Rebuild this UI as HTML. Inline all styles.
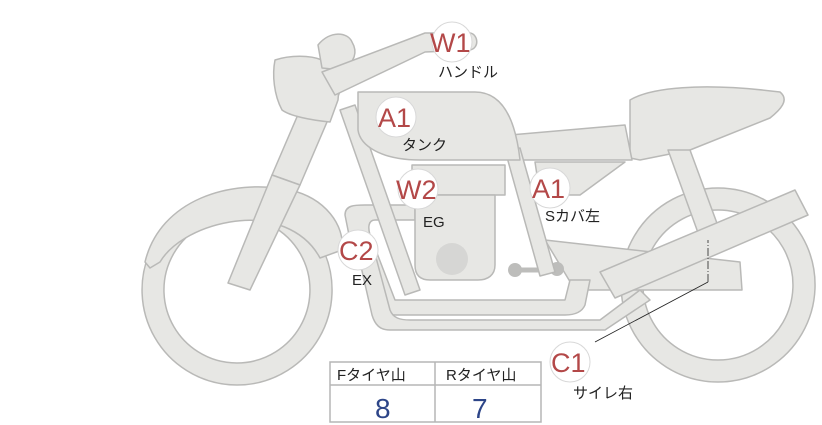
<!DOCTYPE html>
<html><head><meta charset="utf-8"><style>
html,body{margin:0;padding:0;background:#fff;}
svg{display:block}
.p{fill:#e7e7e4;stroke:#b9b9b7;stroke-width:1.5;stroke-linejoin:round}
.c{fill:#fff;stroke:#d8d8d8;stroke-width:1}
.l{font-family:"Liberation Sans","Noto Sans CJK JP",sans-serif;fill:#b34848;font-size:27px}
.t{font-family:"Liberation Sans","Noto Sans CJK JP",sans-serif;fill:#222;font-size:15px}
</style></head><body>
<svg width="822" height="425" viewBox="0 0 822 425" xmlns="http://www.w3.org/2000/svg">
<path class="p" fill-rule="evenodd" d="M718,188a97,97 0 1,0 0.1,0ZM718,210a75,75 0 1,1 -0.1,0Z"/>
<path class="p" fill-rule="evenodd" d="M237,195a95,95 0 1,0 0.1,0ZM237,217a73,73 0 1,1 -0.1,0Z"/>
<path class="p" d="M145,262 C160,200 230,178 290,190 C325,198 345,225 342,250 L320,258 C305,230 270,215 230,222 C195,228 170,245 160,262 L150,268 Z"/>
<path class="p" d="M630,100 C650,88 700,82 780,92 C790,100 780,110 770,118 L690,150 L640,160 L630,158 Z"/>
<path class="p" d="M510,135 L625,125 L632,160 L515,160 Z"/>
<path class="p" d="M535,162 L625,162 L580,195 L540,195 Z"/>
<path class="p" d="M668,150 L690,150 L725,245 L705,252 Z"/>
<path class="p" d="M545,240 L740,262 L742,290 L575,290 Z"/>
<path class="p" d="M345,215 C345,205 355,205 365,205 L415,205 L415,220 L375,220 C368,220 368,228 370,235 L395,300 L565,300 L570,280 L590,280 L585,305 C582,312 575,315 565,315 L395,315 C385,315 380,310 375,300 L350,240 Z"/>
<path class="p" d="M355,240 L370,235 L390,310 C393,318 400,320 410,320 L600,320 L640,290 L650,300 L605,330 L390,330 C380,330 375,325 372,315 Z"/>
<path class="p" d="M412,165 L505,165 L505,195 L412,195 Z"/>
<path class="p" d="M415,195 L495,195 L495,265 C495,275 488,280 478,280 L430,280 C420,280 415,275 415,265 Z"/>
<circle cx="452" cy="259" r="16" fill="#d6d6d4"/>
<path d="M515,270 L560,270" stroke="#bdbdbb" stroke-width="5"/>
<circle cx="515" cy="270" r="7" fill="#bdbdbb"/><circle cx="557" cy="269" r="7" fill="#bdbdbb"/>
<path class="p" d="M340,110 L355,105 L420,290 L405,295 Z"/>
<path class="p" d="M505,150 L520,148 L555,272 L540,276 Z"/>
<path class="p" d="M358,92 L475,92 C500,92 515,115 520,160 L420,160 C380,160 360,145 358,130 Z"/>
<path class="p" d="M600,272 L795,190 L808,215 L615,298 Z"/>
<path class="p" d="M315,75 L345,80 L300,185 L272,175 Z"/>
<path class="p" d="M272,175 L300,185 L250,290 L228,283 Z"/>
<path class="p" d="M275,60 C290,55 310,55 322,60 C335,70 340,85 338,100 L330,122 C310,120 290,116 282,110 C274,95 272,75 275,60 Z"/>
<path class="p" d="M318,45 C330,30 348,32 352,42 C358,52 355,62 342,70 L322,68 Z"/>
<path class="p" d="M322,72 L425,33 L470,33 C478,34 480,48 470,50 L425,52 L335,95 Z"/>
<path d="M595,342 L708,282" stroke="#222" stroke-width="0.8" fill="none"/>
<path d="M708,282 L708,240" stroke="#222" stroke-width="0.8" stroke-dasharray="8,2,1,2" fill="none"/>
<circle class="c" cx="452" cy="42" r="20"/><text class="l" x="430" y="52">W1</text>
<text class="t" x="438" y="77">ハンドル</text>
<circle class="c" cx="396" cy="117" r="20"/><text class="l" x="378" y="127">A1</text>
<text class="t" x="402" y="150">タンク</text>
<circle class="c" cx="418" cy="189" r="20"/><text class="l" x="396" y="199">W2</text>
<text class="t" x="423" y="227">EG</text>
<circle class="c" cx="358" cy="250" r="20"/><text class="l" x="339" y="260">C2</text>
<text class="t" x="352" y="285">EX</text>
<circle class="c" cx="550" cy="188" r="20"/><text class="l" x="532" y="198">A1</text>
<text class="t" x="545" y="221">Sカバ左</text>
<circle class="c" cx="570" cy="362" r="20"/><text class="l" x="551" y="372">C1</text>
<text class="t" x="573" y="398">サイレ右</text>
<rect x="330" y="362" width="211" height="60" fill="#fff" stroke="#b5b5b5" stroke-width="1.5"/>
<line x1="330" y1="385" x2="541" y2="385" stroke="#b5b5b5" stroke-width="1.5"/>
<line x1="435" y1="362" x2="435" y2="422" stroke="#b5b5b5" stroke-width="1.5"/>
<text class="t" x="337" y="380">Fタイヤ山</text>
<text class="t" x="446" y="380">Rタイヤ山</text>
<text x="375" y="418" font-family="Liberation Sans,sans-serif" font-size="28" fill="#2d4588">8</text>
<text x="472" y="418" font-family="Liberation Sans,sans-serif" font-size="28" fill="#2d4588">7</text>
</svg>
</body></html>
